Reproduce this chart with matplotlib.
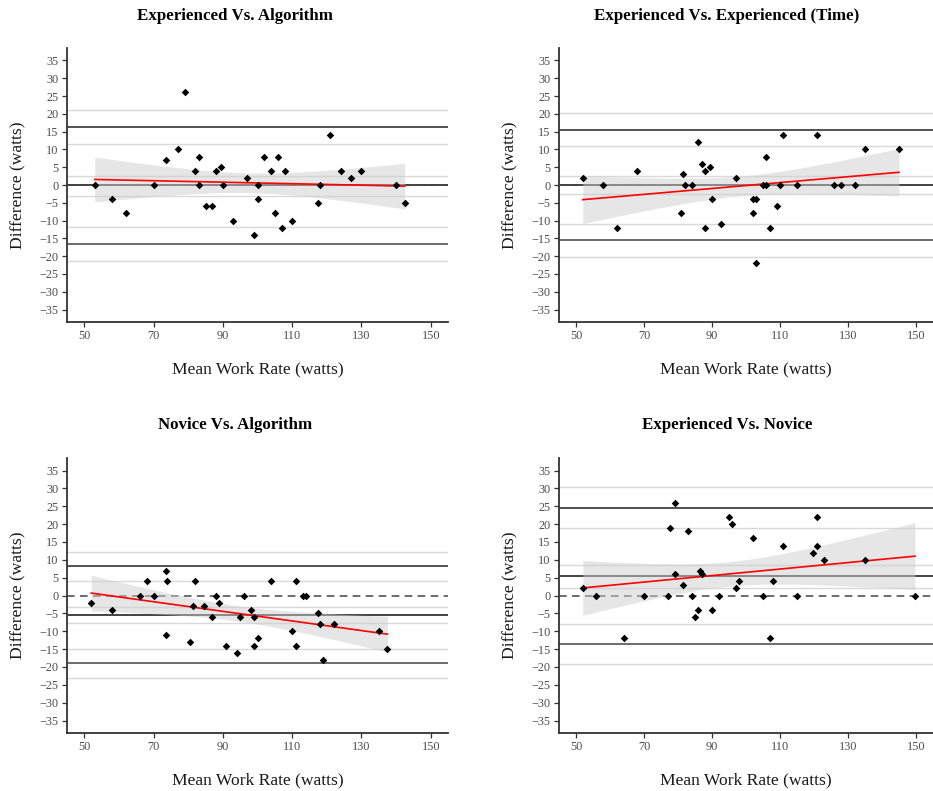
import numpy as np
import matplotlib
matplotlib.use("Agg")
import matplotlib.pyplot as plt

plt.rcParams['font.family'] = ['Liberation Serif', 'DejaVu Serif']

# ---- Bland-Altman data: mean work rate (x) and difference (y), watts ----
ea_mean = [53, 58, 62, 70, 73.5, 77, 79, 82, 83, 83, 85, 87, 88, 89.5, 90, 93, 97,
           99, 100, 100, 102, 104, 105, 106, 107, 108, 110, 117.5, 118, 121, 124,
           127, 130, 140, 142.5]
ea_diff = [0, -4, -8, 0, 7, 10, 26, 4, 8, 0, -6, -6, 4, 5, 0, -10, 2,
           -14, 0, -4, 8, 4, -8, 8, -12, 4, -10, -5, 0, 14, 4,
           2, 4, 0, -5]

ee_mean = [52, 58, 62, 68, 81, 81.5, 82, 84, 86, 87, 88, 88, 89.5, 90, 92.5, 97,
           102, 102, 103, 103, 105, 106, 106, 107, 109, 110, 111, 115, 121, 126,
           128, 132, 135, 145]
ee_diff = [2, 0, -12, 4, -8, 3, 0, 0, 12, 6, 4, -12, 5, -4, -11, 2,
           -4, -8, -4, -22, 0, 0, 8, -12, -6, 0, 14, 0, 14, 0,
           0, 0, 10, 10]

na_mean = [52, 58, 66, 68, 70, 73.5, 74, 73.5, 80.5, 81.5, 82, 84.5, 87, 88, 89,
           91, 94, 95, 96, 98, 99, 99, 100, 104, 110, 111, 111, 113, 114,
           117.5, 118, 119, 122, 135, 137.5]
na_diff = [-2, -4, 0, 4, 0, 7, 4, -11, -13, -3, 4, -3, -6, 0, -2,
           -14, -16, -6, 0, -4, -6, -14, -12, 4, -10, 4, -14, 0, 0,
           -5, -8, -18, -8, -10, -15]

en_mean = [52, 56, 64, 70, 77, 77.5, 79, 79, 81.5, 83, 84, 85, 86, 86.5, 87,
           90, 92, 95, 96, 97, 98, 102, 105, 107, 108, 111, 115, 119.7, 121,
           121, 123, 135, 149.7]
en_diff = [2, 0, -12, 0, 0, 19, 26, 6, 3, 18, 0, -6, -4, 7, 6,
           -4, 0, 22, 20, 2, 4, 16, 0, -12, 4, 14, 0, 12, 14,
           22, 10, 10, 0]

titles = ["Experienced Vs. Algorithm", "Experienced Vs. Experienced (Time)",
          "Novice Vs. Algorithm", "Experienced Vs. Novice"]

# bias and limits of agreement (lower, bias, upper)
loa = [[-16.6, -0.1, 16.4],
       [-15.5, 0.0, 15.4],
       [-19.0, -5.4, 8.2],
       [-13.7, 5.35, 24.6]]
# 95% confidence bounds of each limit (lower LoA, bias, upper LoA)
loa_ci = [[(-21.4, -11.8), (-3.0, 2.6), (11.5, 21.1)],
          [(-20.1, -10.9), (-2.6, 2.6), (10.9, 20.1)],
          [(-23.1, -15.0), (-7.8, -3.2), (4.0, 12.1)],
          [(-19.2, -8.1), (2.2, 8.5), (18.8, 30.3)]]

x_ticks = [50, 70, 90, 110, 130, 150]
y_ticks = list(range(-35, 40, 5))


def t975(df):
    z = 1.959964
    return (z + (z**3 + z) / (4 * df) + (5 * z**5 + 16 * z**3 + 3 * z) / (96 * df**2)
            + (3 * z**7 + 19 * z**5 + 17 * z**3 - 15 * z) / (384 * df**3))


def lm_band(x, y, n_grid=80):
    x = np.asarray(x, float)
    y = np.asarray(y, float)
    n = len(x)
    b1, b0 = np.polyfit(x, y, 1)
    resid = y - (b0 + b1 * x)
    s = np.sqrt(np.sum(resid**2) / (n - 2))
    xbar = x.mean()
    sxx = np.sum((x - xbar) ** 2)
    xg = np.linspace(x.min(), x.max(), n_grid)
    yg = b0 + b1 * xg
    se = s * np.sqrt(1.0 / n + (xg - xbar) ** 2 / sxx)
    t = t975(n - 2)
    return xg, yg, yg - t * se, yg + t * se


W, H = 933, 791
fig = plt.figure(figsize=(W / 100, H / 100), dpi=100)

boxes = [(67, 48, 448, 322), (559, 48, 933, 322),
         (67, 458, 448, 733), (559, 458, 933, 733)]
title_pos = [(235, 16), (727, 16), (235, 425), (727, 425)]
data = [(ea_mean, ea_diff), (ee_mean, ee_diff), (na_mean, na_diff), (en_mean, en_diff)]

for i in range(4):
    l, t, r, b = boxes[i]
    ax = fig.add_axes([l / W, 1 - b / H, (r - l) / W, (b - t) / H])
    xs, ys = data[i]

    # confidence bounds of bias and limits
    for lo, hi in loa_ci[i]:
        ax.axhline(lo, color='#d9d9d9', lw=1.0, zorder=1)
        ax.axhline(hi, color='#d9d9d9', lw=1.0, zorder=1)
    low, bias, up = loa[i]
    ax.axhline(up, color='#222222', lw=1.1, zorder=2)
    ax.axhline(low, color='#444444', lw=1.1, zorder=2)
    ax.axhline(bias, color='#111111', lw=1.1, zorder=2)
    ax.axhline(0, color='#444444', lw=1.1, ls=(0, (5, 3.5)), zorder=3)

    xg, yg, lo_b, hi_b = lm_band(xs, ys)
    ax.fill_between(xg, lo_b, hi_b, color='#cfcfcf', alpha=0.5, lw=0, zorder=4)
    ax.plot(xg, yg, color='#ff0000', lw=1.2, zorder=5)
    ax.scatter(xs, ys, marker='D', s=15, color='black', lw=0, zorder=6)

    ax.set_xlim(45, 155)
    ax.set_ylim(-38.5, 38.5)
    ax.set_xticks(x_ticks)
    ax.set_yticks(y_ticks)
    ax.tick_params(axis='both', direction='out', length=3.5, width=0.9,
                   color='#333333', labelcolor='#4d4d4d', labelsize=8.8, pad=2.5)
    for sp in ['top', 'right']:
        ax.spines[sp].set_visible(False)
    for sp in ['left', 'bottom']:
        ax.spines[sp].set_color('#333333')
        ax.spines[sp].set_linewidth(1.3)

    ax.set_xlabel("Mean Work Rate (watts)", fontsize=12.6, color='#1a1a1a', va='center')
    ax.xaxis.set_label_coords(0.5, -(47 / (b - t)))
    ax.set_ylabel("Difference (watts)", fontsize=12.6, color='#1a1a1a', va='center')
    ax.yaxis.set_label_coords(-(49 / (r - l)), 0.5)

    tx, ty = title_pos[i]
    fig.text(tx / W, 1 - ty / H, titles[i], ha='center', va='center',
             fontsize=12.2, fontweight='bold', color='black')

fig.savefig("out.png", dpi=100)
